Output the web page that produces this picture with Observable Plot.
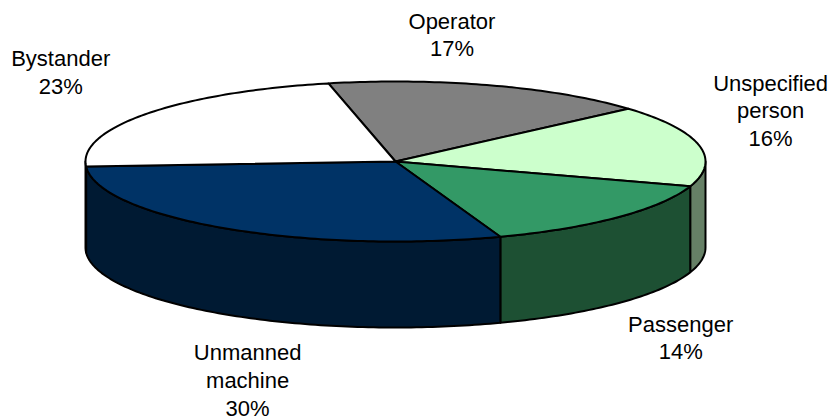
<!DOCTYPE html>
<html>
<head>
<meta charset="utf-8">
<script src="https://cdn.jsdelivr.net/npm/d3@7"></script>
<script src="https://cdn.jsdelivr.net/npm/@observablehq/plot@0.6"></script>
<style>html,body{margin:0;padding:0;background:#fff}svg{display:block}</style>
</head>
<body>
<div id="chart"></div>
<script>
const names = ["Operator", "Unspecified\nperson", "Passenger", "Unmanned\nmachine", "Bystander"];
const shares = [17, 16.49, 14.49, 29.5, 22.52];
const topColors = ["#808080", "#CCFFCC", "#339966", "#003366", "#FFFFFF"];
const sideColors = ["#404040", "#668066", "#1D5033", "#001A33", "#808080"];
const labelX = [0.182, 1.21, 0.92, -0.477, -1.08];
const labelY = [1.6, 0.65, -2.19, -2.72, 1.13];
const startAngle = -12.5;
const depth = 1.075;

const rad = d => d * Math.PI / 180;
const pt = (a, dy = 0) => ({x: Math.sin(rad(a)), y: Math.cos(rad(a)) - dy});
const arc = (a0, a1, dy = 0) => {
  const n = Math.max(2, Math.ceil(Math.abs(a1 - a0)));
  return d3.range(n + 1).map(i => pt(a0 + (a1 - a0) * i / n, dy));
};

let cursor = startAngle;
const slices = shares.map((s, i) => {
  const a0 = cursor, a1 = cursor + s * 3.6;
  cursor = a1;
  return {i, a0, a1};
});

const style = {x: "x", y: "y", stroke: "black", strokeWidth: 2, curve: "linear"};
const sideMarks = slices.flatMap(({i, a0, a1}) => {
  const lo = Math.max(a0, 90), hi = Math.min(a1, 270);
  if (hi <= lo) return [];
  const ring = [...arc(lo, hi), ...arc(hi, lo, depth)];
  ring.push(ring[0]);
  return [Plot.line(ring, {...style, fill: sideColors[i]})];
});
const topMarks = slices.map(({i, a0, a1}) => {
  const ring = [{x: 0, y: 0}, ...arc(a0, a1), {x: 0, y: 0}];
  return Plot.line(ring, {...style, fill: topColors[i]});
});
const labels = names.map((n, i) => ({
  text: `${n}\n${Math.round(shares[i])}%`, x: labelX[i], y: labelY[i]
}));

document.getElementById("chart").append(Plot.plot({
  width: 838, height: 417,
  margin: 0,
  style: {background: "#fff"},
  x: {domain: [-1, 1], range: [85, 705], axis: null},
  y: {domain: [-1, 1], range: [241, 81], axis: null},
  marks: [
    ...sideMarks,
    ...topMarks,
    Plot.text(labels, {
      x: "x", y: "y", text: "text", fill: "black",
      fontFamily: "Liberation Sans", fontSize: 22, lineHeight: 1.26,
      textAnchor: "middle"
    })
  ]
}));
</script>
</body>
</html>
